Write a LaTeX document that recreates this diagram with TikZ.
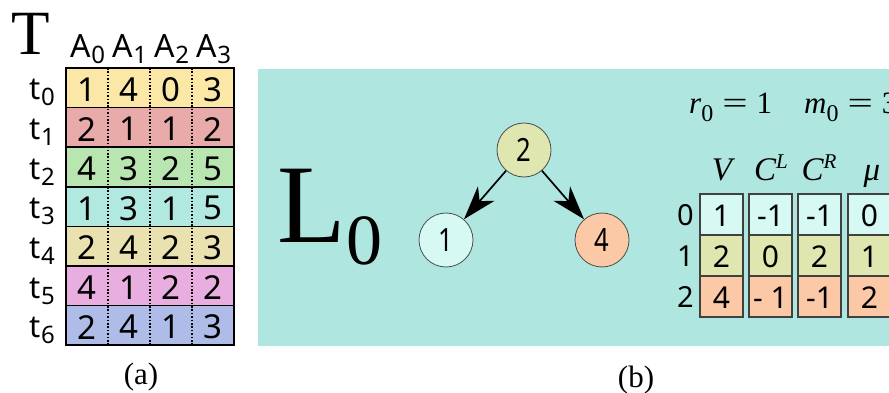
\documentclass[tikz,border=0pt]{standalone}
\usepackage{fontspec}
\setmainfont{Liberation Serif}
\newfontfamily\sansf{Noto Sans}
\usetikzlibrary{arrows.meta}
\definecolor{bgteal}{RGB}{175,231,224}
\definecolor{rA}{RGB}{252,232,166}
\definecolor{rB}{RGB}{232,171,170}
\definecolor{rC}{RGB}{185,229,176}
\definecolor{rD}{RGB}{177,232,224}
\definecolor{rE}{RGB}{233,225,176}
\definecolor{rF}{RGB}{233,174,224}
\definecolor{rG}{RGB}{175,188,232}
\definecolor{vA}{RGB}{214,250,243}
\definecolor{vB}{RGB}{223,230,176}
\definecolor{vC}{RGB}{251,201,166}
\newcommand{\sbs}[1]{\raisebox{-6pt}{\fontsize{24}{24}\selectfont #1}}
\newcommand{\sps}[1]{\raisebox{12pt}{\fontsize{21}{21}\selectfont #1}}
\newcommand{\msub}[1]{\raisebox{-8pt}{\fontsize{24}{24}\selectfont #1}}
\newcommand{\meq}{\hspace{9pt}\scalebox{1.45}[1]{=}\hspace{9pt}}
\newcommand{\narrow}[1]{\scalebox{0.8}[1]{#1}}
\tikzset{
  celltext/.style={inner sep=0pt, font=\sansf\fontsize{33}{33}\selectfont},
  vtext/.style={inner sep=0pt, font=\sansf\fontsize{30}{30}\selectfont},
  hdr/.style={inner sep=0pt, anchor=base, font=\sansf\fontsize{32}{32}\selectfont},
  rowlab/.style={inner sep=0pt, anchor=base east, font=\sansf\fontsize{31}{31}\selectfont},
  circ/.style={circle, draw=black!70, line width=0.8pt, minimum size=54pt, inner sep=0pt, font=\sansf\fontsize{32}{32}\selectfont},
  arr/.style={line width=1.7pt, -{Stealth[length=34pt, width=22pt, inset=10pt]}},
  mhdr/.style={inner sep=0pt, anchor=base, font=\fontsize{33}{33}\selectfont\itshape},
}
\begin{document}
\begin{tikzpicture}[x=1pt,y=-1pt]
\useasboundingbox (0,0) rectangle (889,393);
\clip (0,0) rectangle (889,393);
% ---------- (a) table T
\node[inner sep=0pt, anchor=base, font=\fontsize{63}{63}\selectfont] (Tlab) at (31,55) {T};
\foreach \k [count=\j from 0] in {0,1,2,3}
  \node[hdr] (A\j) at (88+42*\j,58) {A\sbs{\k}};
\foreach \c [count=\i from 0] in {rA,rB,rC,rD,rE,rF,rG}{
  \fill[\c] (66,68+39.6*\i) rectangle (234,68+39.6*\i+39.6);
  \node[rowlab] (t\i) at (55,68+39.6*\i+32) {t\sbs{\i}};
}
\foreach \i in {1,...,6}
  \draw[line width=1.4pt] (66,68+39.6*\i) -- (234,68+39.6*\i);
\foreach \x in {108,150,192}
  \draw[line width=1.7pt, dash pattern=on 1.6pt off 1.8pt] (\x,68) -- (\x,345.2);
\draw[line width=1.7pt] (66,68) rectangle (234,345.2);
\foreach \vals [count=\i from 0] in {{1,4,0,3},{2,1,1,2},{4,3,2,5},{1,3,1,5},{2,4,2,3},{4,1,2,2},{2,4,1,3}}{
  \foreach \v [count=\j from 0] in \vals
    \node[celltext] (c\i-\j) at (87+42*\j,68+39.6*\i+21.5) {\v};
}
\node[inner sep=0pt, anchor=base, font=\fontsize{31}{31}\selectfont] (capa) at (141,384) {(a)};
% ---------- (b) panel
\fill[bgteal] (258,69) rectangle (895,346);
\node[inner sep=0pt, anchor=base, font=\fontsize{112}{112}\selectfont] (L0) at (330,242) {L\raisebox{-0.2em}{\fontsize{72}{72}\selectfont 0}};
\node[circ, fill=vB] (n2) at (524,150) {\narrow{2}};
\node[circ, fill=vA] (n1) at (446,240) {\narrow{1}};
\node[circ, fill=vC] (n4) at (602,240) {\narrow{4}};
\draw[arr] (n2) -- (n1);
\draw[arr] (n2) -- (n4);
\node[inner sep=0pt, anchor=base west, font=\fontsize{31}{31}\selectfont] (rm) at (689,114)
  {{\itshape r}\msub{0}\meq 1\hspace{32pt}{\itshape m}\msub{0}\meq 3};
\node[mhdr] (hV) at (722,180) {V};
\node[mhdr] (hCL) at (771,180) {C\sps{\itshape L}};
\node[mhdr] (hCR) at (819,180) {C\sps{\itshape R}};
\node[mhdr] (hmu) at (872,180) {μ};
\foreach \k in {0,1,2}
  \node[rowlab, font=\sansf\fontsize{29}{29}\selectfont] (r\k) at (694,194+41*\k+31) {\k};
\foreach \xl/\vals [count=\j from 0] in {700/{1,2,4},749/{-1,0,- 1},798/{-1,2,-1},848/{0,1,2}}{
  \fill[vA] (\xl,194) rectangle (\xl+43,235);
  \fill[vB] (\xl,235) rectangle (\xl+43,276);
  \fill[vC] (\xl,276) rectangle (\xl+43,317);
  \draw[black!75, line width=1.1pt] (\xl,235) -- (\xl+43,235) (\xl,276) -- (\xl+43,276);
  \draw[black!75, line width=1.2pt] (\xl,194) rectangle (\xl+43,317);
  \foreach \v [count=\i from 0] in \vals
    \node[vtext] (v\j-\i) at (\xl+21.5,194+41*\i+21.5) {\v};
}
\node[inner sep=0pt, anchor=base, font=\fontsize{31}{31}\selectfont] (capb) at (636,387) {(b)};
\end{tikzpicture}
\end{document}
